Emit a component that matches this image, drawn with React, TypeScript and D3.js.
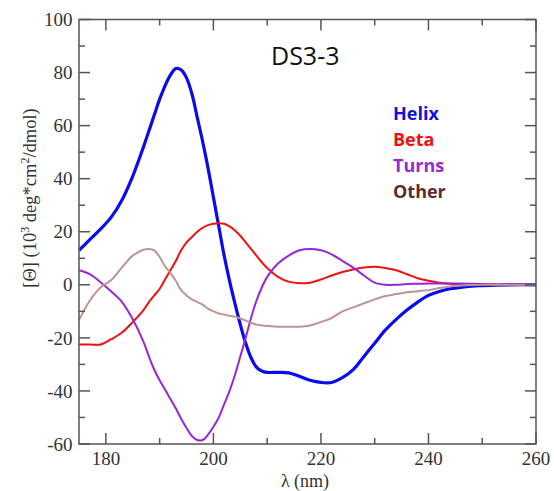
import React from "react";
import * as d3 from "d3";

const wavelengths = [175,177,179,181,183,185,187,188,189,190,191,192,193,194,195,196,197,198,199,200,201,202,203,204,205,206,207,208,209,210,212,214,216,218,220,222,224,226,228,230,232,234,236,238,240,242,244,246,248,250,255,260];

const helix = [13,17,21,25.5,32,41,52,58,64,70,75,79,81.5,81,78,72,63,54,44,33,22,11,1.5,-7,-15,-22,-27.5,-31,-32.5,-33,-33,-33.2,-34.5,-36,-36.8,-36.8,-35,-32,-27,-22,-17,-13,-9.5,-6.5,-4,-2.5,-1.5,-1,-0.5,-0.3,0,0];

const beta = [-22.5,-22.5,-22.5,-20.5,-18,-14,-9.5,-6.5,-4,-1.5,2,5.5,9,13,16,18,20,21.5,22.5,23,23.2,23,22,20.5,18.5,16,13.5,11,8.5,6.3,3,1.2,0.6,0.8,2,3.5,4.8,5.8,6.5,6.8,6.3,5.5,4,2.5,1.5,0.8,0.4,0.2,0.1,0,0,0];

const turns = [5.5,4,1,-2.5,-6.5,-13,-21.5,-27,-32,-36,-39.5,-43,-46.5,-50.5,-54,-57,-58.5,-58.5,-56.5,-53.5,-50,-45,-40,-34,-27,-20,-12.5,-6,-1,3,8,11,13,13.5,13,11.5,9,6.5,3.5,0.8,0,0,0.3,0.4,0.5,0.5,0.5,0.5,0.4,0.3,0.1,0];

const other = [-13.3,-6,-1,1.8,6.6,11,13.2,13.5,13,10.5,7,4.5,1.5,-2,-4,-5.5,-6.5,-7.5,-9,-10,-10.8,-11.2,-11.7,-12,-12.7,-13.5,-14.3,-15,-15.3,-15.5,-15.8,-15.8,-15.8,-15.3,-14,-12.5,-10,-8.5,-7,-5.5,-4.2,-3.5,-2.8,-2.4,-2,-1.2,-0.6,-0.3,-0.1,0,0,0];

const seriesNames = ["Helix", "Beta", "Turns", "Other"];
const seriesColors = ["#0a0af0", "#f01010", "#9428d8", "#bc9494"];
const legendColors = ["#1010e0", "#f01010", "#9a2ad0", "#5c2c2c"];
const seriesWidths = [3.2, 2, 2, 2];

const xMajor = [180, 200, 220, 240, 260];
const xMinor = [190, 210, 230, 250];
const yMajor = [-60, -40, -20, 0, 20, 40, 60, 80, 100];
const yMinor = [-50, -30, -10, 10, 30, 50, 70, 90];

const title = "DS3-3";

export default function App() {
  const left = 79, right = 536, top = 19.5, bottom = 444;
  const x = d3.scaleLinear().domain([175, 260]).range([left, right]);
  const y = d3.scaleLinear().domain([-60, 100]).range([bottom, top]);
  const all = [helix, beta, turns, other];
  const line = d3
    .line<[number, number]>()
    .x((d) => x(d[0]))
    .y((d) => y(d[1]))
    .curve(d3.curveCatmullRom.alpha(0.5));
  const axisColor = "#555";
  const tickMajor = 11, tickMinor = 6;
  const serif = "'Liberation Serif', 'DejaVu Serif', serif";
  return (
    <svg
      width={554}
      height={491}
      style={{ position: "absolute", left: 0, top: 0, background: "#fff" }}
    >
      <rect x={0} y={0} width={554} height={491} fill="#fff" />
      <clipPath id="plotclip">
        <rect x={left} y={top} width={right - left} height={bottom - top} />
      </clipPath>
      <g clipPath="url(#plotclip)">
        {all.map((vals, i) => (
          <path
            key={seriesNames[i]}
            d={line(wavelengths.map((w, j) => [w, vals[j]] as [number, number])) || ""}
            fill="none"
            stroke={seriesColors[i]}
            strokeWidth={seriesWidths[i]}
            strokeLinejoin="round"
          />
        ))}
      </g>
      <rect x={left} y={top} width={right - left} height={bottom - top} fill="none" stroke={axisColor} strokeWidth={1.5} />
      {xMajor.map((t) => (
        <g key={"xM" + t}>
          <line x1={x(t)} x2={x(t)} y1={bottom} y2={bottom - tickMajor} stroke={axisColor} strokeWidth={1.5} />
          <line x1={x(t)} x2={x(t)} y1={top} y2={top + tickMajor} stroke={axisColor} strokeWidth={1.5} />
          <text x={x(t)} y={465} textAnchor="middle" fontFamily={serif} fontSize={19} fill="#333">{t}</text>
        </g>
      ))}
      {xMinor.map((t) => (
        <g key={"xm" + t}>
          <line x1={x(t)} x2={x(t)} y1={bottom} y2={bottom - tickMinor} stroke={axisColor} strokeWidth={1.5} />
          <line x1={x(t)} x2={x(t)} y1={top} y2={top + tickMinor} stroke={axisColor} strokeWidth={1.5} />
        </g>
      ))}
      {yMajor.map((t) => (
        <g key={"yM" + t}>
          <line x1={left} x2={left + tickMajor} y1={y(t)} y2={y(t)} stroke={axisColor} strokeWidth={1.5} />
          <line x1={right} x2={right - tickMajor} y1={y(t)} y2={y(t)} stroke={axisColor} strokeWidth={1.5} />
          <text x={72.5} y={y(t)} dy="0.35em" textAnchor="end" fontFamily={serif} fontSize={19} fill="#333">{t}</text>
        </g>
      ))}
      {yMinor.map((t) => (
        <g key={"ym" + t}>
          <line x1={left} x2={left + tickMinor} y1={y(t)} y2={y(t)} stroke={axisColor} strokeWidth={1.5} />
          <line x1={right} x2={right - tickMinor} y1={y(t)} y2={y(t)} stroke={axisColor} strokeWidth={1.5} />
        </g>
      ))}
      <text x={305} y={487} textAnchor="middle" fontFamily={serif} fontSize={18} fill="#333">λ (nm)</text>
      <text
        transform="translate(36,198) rotate(-90)"
        textAnchor="middle"
        fontFamily={serif}
        fontSize={18.5}
        fill="#333"
      >
        [Θ] (10<tspan dy={-7} fontSize={12}>3</tspan><tspan dy={7}> deg*cm</tspan><tspan dy={-7} fontSize={12}>2</tspan><tspan dy={7}>/dmol)</tspan>
      </text>
      <text x={271} y={65} fontFamily="'Open Sans', 'Liberation Sans', sans-serif" fontSize={25} fill="#111">{title}</text>
      {seriesNames.map((n, i) => (
        <text key={"lg" + n} x={393} y={119.5 + i * 26} fontFamily="'Open Sans', 'Liberation Sans', sans-serif" fontWeight="bold" fontSize={18} fill={legendColors[i]}>{n}</text>
      ))}
    </svg>
  );
}
